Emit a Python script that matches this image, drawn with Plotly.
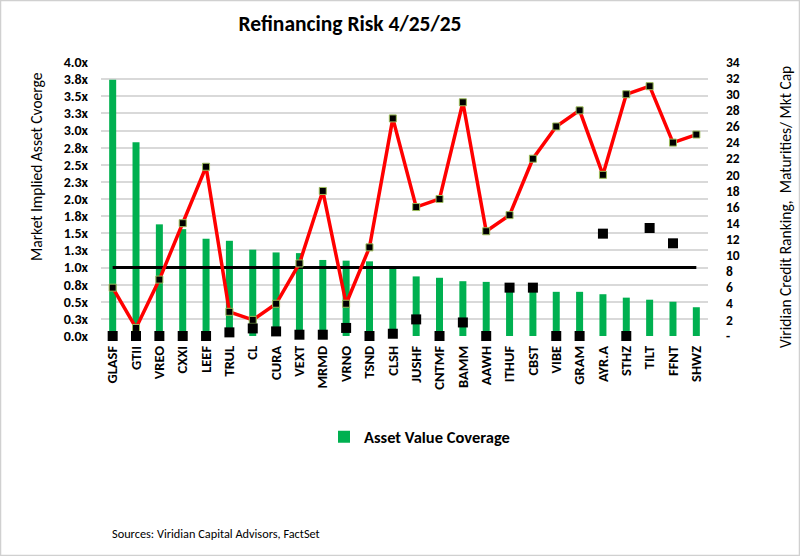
import plotly.graph_objects as go

tickers = ["GLASF", "GTII", "VREO", "CXXI", "LEEF", "TRUL", "CL", "CURA", "VEXT", "MRMD",
           "VRNO", "TSND", "CLSH", "JUSHF", "CNTMF", "BAMM", "AAWH", "ITHUF", "CBST", "VIBE",
           "GRAM", "AYR.A", "STHZ", "TILT", "FFNT", "SHWZ"]
asset_coverage = [3.74, 2.83, 1.63, 1.56, 1.42, 1.39, 1.26, 1.22, 1.21, 1.11,
                  1.10, 1.09, 1.00, 0.87, 0.85, 0.80, 0.79, 0.77, 0.76, 0.645,
                  0.645, 0.61, 0.56, 0.53, 0.50, 0.42]
credit_ranking = [6, 1, 7, 14, 21, 3, 2, 4, 9, 18,
                  4, 11, 27, 16, 17, 29, 13, 15, 22, 26,
                  28, 20, 30, 31, 24, 25]
maturities_mktcap = [0, 0, 0, 0, 0, 0.45, 0.94, 0.57, 0.16, 0.16,
                     1.0, 0, 0.28, 2.06, 0, 1.68, 0, 6.0, 6.0, 0,
                     0, 12.7, 0, 13.4, 11.5, None]
coverage_threshold = [1.0] * len(tickers)

left_vals = [i * 0.25 for i in range(17)]
left_text = ["0.0x", "0.3x", "0.5x", "0.8x", "1.0x", "1.3x", "1.5x", "1.8x", "2.0x",
             "2.3x", "2.5x", "2.8x", "3.0x", "3.3x", "3.5x", "3.8x", "4.0x"]
right_vals = list(range(0, 35, 2))
right_text = ["-"] + [str(v) for v in right_vals[1:]]

FONT = "Carlito, Lato, sans-serif"
W, H = 800, 556
ML, MR, MT, MB = 101, 92, 62, 220
PW, PH = W - ML - MR, H - MT - MB


def px(x):
    return (x - ML) / PW


def py(y):
    return (H - MB - y) / PH


fig = go.Figure()
fig.add_trace(go.Bar(x=tickers, y=asset_coverage, name="Asset Value Coverage",
                     marker=dict(color="#00B050", line=dict(width=0)), width=0.3,
                     yaxis="y"))
fig.add_trace(go.Scatter(x=tickers, y=coverage_threshold, mode="lines",
                         line=dict(color="black", width=3), showlegend=False,
                         yaxis="y", hoverinfo="skip"))
fig.add_trace(go.Scatter(x=tickers, y=credit_ranking, mode="lines+markers",
                         line=dict(color="#FF0000", width=3.5),
                         marker=dict(symbol="square", size=7, color="black",
                                     line=dict(color="#9BBB59", width=1)),
                         showlegend=False, yaxis="y2", cliponaxis=False))
fig.add_trace(go.Scatter(x=tickers, y=maturities_mktcap, mode="markers",
                         marker=dict(symbol="square", size=10, color="black"),
                         showlegend=False, yaxis="y2", cliponaxis=False))

fig.update_layout(
    width=W, height=H,
    paper_bgcolor="white", plot_bgcolor="white",
    margin=dict(l=ML, r=MR, t=MT, b=MB),
    font=dict(family=FONT, color="black"),
    title=dict(text="<b>Refinancing Risk 4/25/25</b>", x=350 / W, xanchor="center",
               y=1 - 23 / H, yanchor="middle", font=dict(size=21.5, family=FONT)),
    xaxis=dict(type="category", tickangle=-90,
               tickfont=dict(size=14.5, family=FONT, weight="bold"),
               showgrid=False, showline=False, ticks="", range=[-0.5, 25.5],
               ticklabelstandoff=6),
    yaxis=dict(range=[0, 4], tickvals=left_vals, ticktext=left_text,
               tickfont=dict(size=14, family=FONT, weight="bold"), showgrid=True,
               gridcolor="#D9D9D9", gridwidth=1.5, zeroline=False,
               ticklabelstandoff=12),
    yaxis2=dict(range=[0, 34], overlaying="y", side="right", tickvals=right_vals,
                ticktext=right_text, tickfont=dict(size=13.5, family=FONT, weight="bold"),
                showgrid=False, zeroline=False, ticklabelstandoff=17),
    legend=dict(x=px(324), y=py(437), xanchor="left", yanchor="middle",
                orientation="h", font=dict(size=16.5, family=FONT, weight="bold"),
                bgcolor="rgba(0,0,0,0)"),
    showlegend=True,
    annotations=[
        dict(text="Market Implied Asset Cvoerge", textangle=-90, xref="paper", yref="paper",
             x=px(36), y=py(167), xanchor="center", yanchor="middle", showarrow=False,
             font=dict(size=15.5, family=FONT)),
        dict(text="Viridian Credit Ranking,  Maturities/ Mkt Cap", textangle=-90,
             xref="paper", yref="paper", x=px(785), y=py(207), xanchor="center",
             yanchor="middle", showarrow=False, font=dict(size=15.5, family=FONT)),
        dict(text="Sources: Viridian Capital Advisors, FactSet", xref="paper", yref="paper",
             x=px(110), y=py(533), xanchor="left", yanchor="middle",
             showarrow=False, font=dict(size=12.3, family=FONT)),
    ],
    shapes=[dict(type="rect", xref="paper", yref="paper", x0=px(0.5), x1=px(799.5),
                 y0=py(555.5), y1=py(0.5), line=dict(color="#D0D0D0", width=1.5))],
)

fig.write_html("out.html", config={"displayModeBar": False},
               post_script="document.body.style.margin='0';")
